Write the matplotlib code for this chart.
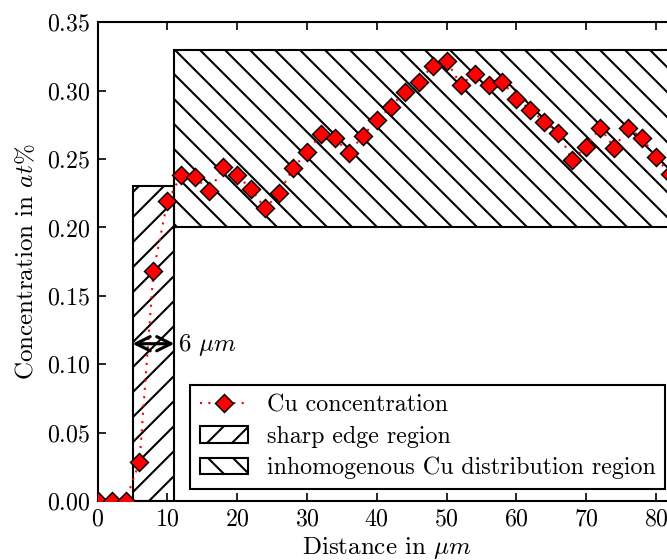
import matplotlib
matplotlib.use("Agg")
import matplotlib.pyplot as plt
from matplotlib.patches import Rectangle

# Cu concentration profile (every 2 um)
distance = [0, 2, 4, 6, 8, 10, 12, 14, 16, 18, 20, 22, 24, 26, 28, 30, 32, 34,
            36, 38, 40, 42, 44, 46, 48, 50, 52, 54, 56, 58, 60, 62, 64, 66,
            68, 70, 72, 74, 76, 78, 80, 82]
concentration = [0.0, 0.0, 0.0, 0.0285, 0.168, 0.219, 0.2385, 0.2372, 0.2263,
                 0.2441, 0.2382, 0.2280, 0.2139, 0.2251, 0.2434, 0.2550,
                 0.2682, 0.2653, 0.2543, 0.2672, 0.2784, 0.2883, 0.2991,
                 0.3064, 0.3183, 0.3219, 0.3044, 0.3122, 0.3042, 0.3064,
                 0.2942, 0.2861, 0.2772, 0.2691, 0.2494, 0.2591, 0.2730,
                 0.2582, 0.2730, 0.2653, 0.2514, 0.2390]

# regions: (x0, x1, y0, y1)
sharp_edge = (5, 11, 0.0, 0.23)
inhomogeneous = (11, 100, 0.20, 0.33)

plt.rcParams['font.family'] = 'serif'
plt.rcParams['font.serif'] = ['cmr10', 'DejaVu Serif']
plt.rcParams['mathtext.fontset'] = 'cm'
plt.rcParams['axes.formatter.use_mathtext'] = True
plt.rcParams['font.size'] = 12
plt.rcParams['xtick.labelsize'] = 11.5
plt.rcParams['ytick.labelsize'] = 11.5
plt.rcParams['xtick.direction'] = 'in'
plt.rcParams['ytick.direction'] = 'in'
plt.rcParams['xtick.top'] = True
plt.rcParams['ytick.right'] = True
plt.rcParams['xtick.major.size'] = 4
plt.rcParams['ytick.major.size'] = 4
plt.rcParams['axes.linewidth'] = 1.0
plt.rcParams['hatch.linewidth'] = 1.0

fig = plt.figure(figsize=(667 / 150, 560 / 150), dpi=150)
ax = fig.add_axes([97.6 / 667, 59 / 560, (677 - 97.6) / 667, (501 - 22.3) / 560])

ax.add_patch(Rectangle((sharp_edge[0], sharp_edge[2]),
                       sharp_edge[1] - sharp_edge[0], sharp_edge[3] - sharp_edge[2],
                       fill=False, hatch='//', edgecolor='black', lw=1.0,
                       label='sharp edge region', zorder=1))
ax.add_patch(Rectangle((inhomogeneous[0], inhomogeneous[2]),
                       inhomogeneous[1] - inhomogeneous[0],
                       inhomogeneous[3] - inhomogeneous[2],
                       fill=False, hatch='\\\\', edgecolor='black', lw=1.0,
                       label='inhomogenous Cu distribution region', zorder=1))

ax.plot(distance, concentration, color='red', linestyle=(0, (1, 3)), lw=1.0,
        marker='D', markersize=5.8, markerfacecolor='red', markeredgecolor='black',
        markeredgewidth=0.7, label='Cu concentration', zorder=3)

ax.annotate('', xy=(5, 0.115), xytext=(11, 0.115),
            arrowprops=dict(arrowstyle='<->', lw=1.5, color='black',
                            mutation_scale=17, shrinkA=0, shrinkB=0))
ax.text(11.5, 0.114, r'6 $\mu m$', va='center', ha='left')

ax.set_xlim(0, 83)
ax.set_ylim(0, 0.35)
ax.set_xticks(range(0, 90, 10))
ax.set_yticks([0.0, 0.05, 0.10, 0.15, 0.20, 0.25, 0.30, 0.35])
ax.set_xlabel(r'Distance in $\mu m$', labelpad=2)
ax.set_ylabel(r'Concentration in $at\%$')

handles, labels = ax.get_legend_handles_labels()
order = [2, 0, 1]
leg = ax.legend([handles[i] for i in order], [labels[i] for i in order],
                loc='lower right', numpoints=1, fancybox=False, framealpha=1,
                fontsize=11.5, labelspacing=0.38)
leg.get_frame().set_edgecolor('black')
leg.get_frame().set_linewidth(1.0)

fig.savefig('out.png', dpi=150)
